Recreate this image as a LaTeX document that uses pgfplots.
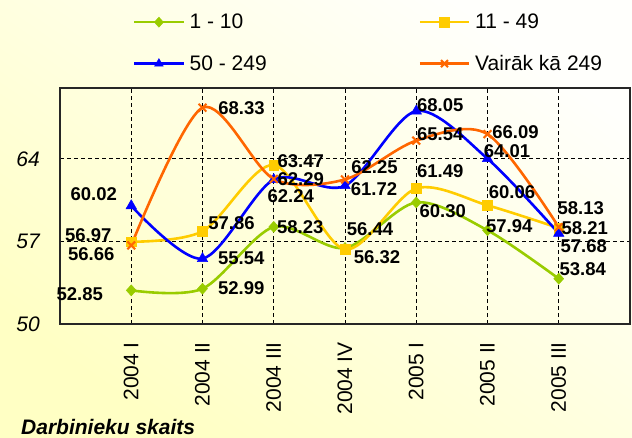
\documentclass[border=0pt]{standalone}
\usepackage{fontspec}
\setmainfont{Liberation Sans}
\usepackage{pgfplots}
\pgfplotsset{compat=1.18}
\usepackage{pgfplotstable}
\definecolor{cgreen}{RGB}{153,204,0}
\definecolor{cyellow}{RGB}{255,204,0}
\definecolor{cblue}{RGB}{0,0,255}
\definecolor{corange}{RGB}{255,102,0}
\definecolor{bgLL}{RGB}{255,255,196}
\definecolor{bgUR}{RGB}{255,255,252}

\pgfplotstableread{
x y dx dy
0 52.85 -51.5 -4
1 52.99 38.7 1
2 58.23 26.5 0
3 56.44 25 19
4 60.30 26.5 -8.5
5 57.94 21.8 4
6 53.84 24 10
}\tgreen
\pgfplotstableread{
x y dx dy
0 56.97 -43 7
1 57.86 29 8.6
2 63.47 27 4
3 56.32 32 -8
4 61.49 24 17
5 60.06 24.5 13.6
6 58.13 22 20
}\tyellow
\pgfplotstableread{
x y dx dy
0 60.02 -37.5 12
1 55.54 38.7 0
2 62.24 17 -17
3 61.72 29 -3.6
4 68.05 24 6
5 64.01 19.5 8
6 57.68 25 -13
}\tblue
\pgfplotstableread{
x y dx dy
0 56.66 -40 -8.6
1 68.33 39 0
2 62.29 27 0
3 62.25 29.5 12
4 65.54 24 6
5 66.09 28 2
6 58.21 26 -1
}\torange

\begin{document}
\begin{tikzpicture}
\shade[bottom color=bgLL, top color=bgUR, shading angle=-35] (0pt,0pt) rectangle (632pt,437pt);
\begin{axis}[
  at={(60pt,113pt)}, anchor=south west,
  scale only axis, width=570pt, height=236pt,
  xmin=-1, xmax=7, ymin=50, ymax=70,
  xtick={0,...,6},
  xticklabels={2004 I,2004 II,2004 III,2004 IV,2005 I,2005 II,2005 III},
  ytick={50,57,64},
  grid=major,
  major grid style={black, line width=0.8pt, dash pattern=on 4pt off 3pt},
  major tick length=0pt,
  axis line style={black!85, line width=1.2pt},
  /pgf/number format/assume math mode=true,
  yticklabel style={font=\itshape\fontsize{21}{21}\selectfont, inner sep=0pt},
  yticklabel shift=20pt,
  xticklabel style={font=\fontsize{21}{21}\selectfont, rotate=90, anchor=east, inner sep=0pt},
  xticklabel shift=18pt,
  legend columns=2,
  legend cell align=left,
  legend style={at={(0.128,1.314)}, anchor=north west, draw=none, fill=none,
    inner sep=0pt, row sep=25pt,
    nodes={inner sep=0pt},
    font=\fontsize{21}{21}\selectfont,
    /tikz/every odd column/.append style={column sep=5pt},
    /tikz/every even column/.append style={column sep=152pt}},
  legend image code/.code={\draw[mark repeat=2,mark phase=2,#1,line width=2.5pt,mark size=5pt] plot coordinates {(0pt,0pt) (24.5pt,0pt) (49pt,0pt)};},
  nodes near coords={\pgfmathprintnumber[fixed,fixed zerofill,precision=2]{\pgfplotspointmeta}},
  visualization depends on={\thisrow{dx}\as\dx},
  visualization depends on={\thisrow{dy}\as\dy},
  every node near coord/.append style={anchor=center, text=black, inner sep=0pt,
    font=\bfseries\fontsize{18.5}{18.5}\selectfont, xshift=\dx pt, yshift=\dy pt},
]
\addplot[color=cgreen, line width=2.6pt, smooth, tension=0.5, mark=diamond*, mark size=5.5pt, mark options={solid, line width=0.5pt, xscale=1.2}] table[x=x,y=y] {\tgreen};
\addlegendentry{1 - 10}
\addplot[color=cyellow, line width=2.6pt, smooth, tension=0.5, mark=square*, mark size=4.8pt, mark options={solid, line width=0.5pt}] table[x=x,y=y] {\tyellow};
\addlegendentry{11 - 49}
\addplot[color=cblue, line width=2.6pt, smooth, tension=0.5, mark=triangle*, mark size=6pt, mark options={solid, line width=0.5pt}] table[x=x,y=y] {\tblue};
\addlegendentry{50 - 249}
\addplot[color=corange, line width=2.6pt, smooth, tension=0.5, mark=x, mark size=5.5pt, mark options={solid, line width=2pt}] table[x=x,y=y] {\torange};
\addlegendentry{Vairāk kā 249}
\end{axis}
\node[anchor=base west, inner sep=0pt, font=\bfseries\itshape\fontsize{21}{21}\selectfont] at (21pt,3pt) {Darbinieku skaits};
\pgfresetboundingbox
\useasboundingbox (0pt,0pt) rectangle (632pt,437pt);
\end{tikzpicture}
\end{document}
